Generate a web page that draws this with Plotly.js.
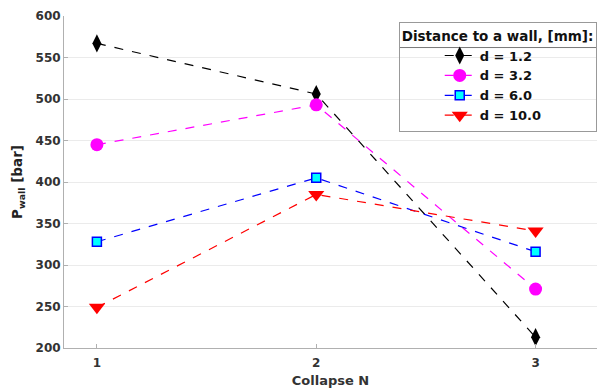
<!DOCTYPE html>
<html><head><meta charset="utf-8">
<script src="https://cdn.plot.ly/plotly-3.0.1.min.js"></script>
<style>body{margin:0;background:#fff}#c{width:597px;height:392px}</style>
</head><body><div id="c"></div>
<script>
const collapses = [1, 2, 3];
const seriesNames = ["d = 1.2", "d = 3.2", "d = 6.0", "d = 10.0"];
const d12 = [567, 506, 213];
const d32 = [445, 493, 271];
const d60 = [328, 405, 316];
const d100 = [249, 385, 341];
const xTicks = [1, 2, 3];
const yTicks = [200, 250, 300, 350, 400, 450, 500, 550, 600];

const F = "DejaVu Sans, Arial, sans-serif";
function tr(name, y, lineColor, symbol, size, fill, edge, ew) {
  return {x: collapses, y: y, name: name, type: "scatter", mode: "lines+markers",
    line: {color: lineColor, dash: "dash", width: 1.2},
    marker: {symbol: symbol, size: size, color: fill, line: {color: edge, width: ew}}};
}
const data = [
  tr(seriesNames[0], d12, "#000000", "diamond-tall", 13, "#000000", "#000000", 0),
  tr(seriesNames[1], d32, "#ff00ff", "circle", 13, "#ff00ff", "#ff00ff", 0),
  tr(seriesNames[2], d60, "#0000ff", "square", 9, "#00ffff", "#0000ff", 1.5),
  tr(seriesNames[3], d100, "#ff0000", "triangle-down", 14, "#ff0000", "#ff0000", 0)
];
const layout = {
  width: 597, height: 392,
  margin: {l: 64, r: 0, t: 16, b: 44},
  paper_bgcolor: "#fff", plot_bgcolor: "#fff",
  font: {family: F, size: 12, color: "#262626"},
  xaxis: {range: [0.85, 3.28], tickvals: xTicks, ticktext: xTicks.map(String),
    showgrid: false, zeroline: false, showline: true, linecolor: "#b0b0b0", linewidth: 1,
    ticks: "inside", ticklen: 4, tickcolor: "#b0b0b0", ticklabelstandoff: 4,
    tickfont: {family: F, size: 12, color: "#333", weight: "bold"},
    title: {text: "Collapse N", font: {family: F, size: 13, color: "#333", weight: "bold"}, standoff: 6}},
  yaxis: {range: [200, 600], tickvals: yTicks, showgrid: true, gridcolor: "#ebebeb",
    zeroline: false, showline: true, linecolor: "#b0b0b0", linewidth: 1,
    ticks: "inside", ticklen: 4, tickcolor: "#b0b0b0",
    tickfont: {family: F, size: 12, color: "#333", weight: "bold"},
    title: {text: "P<sub>wall</sub> [bar]", font: {family: F, size: 13.5, color: "#222", weight: "bold"}, standoff: 9}},
  legend: {x: 0.9995, xanchor: "right", y: 0.982, yanchor: "top",
    bgcolor: "rgba(0,0,0,0)", bordercolor: "#999", borderwidth: 1,
    font: {family: F, size: 13, color: "#111", weight: "bold"},
    title: {text: "Distance to a wall, [mm]:", side: "top", font: {family: F, size: 13.5, color: "#111", weight: "bold"}},
    indentation: 40, tracegroupgap: 0, itemwidth: 30},
  shapes: [{type: "rect", xref: "paper", yref: "paper", x0: 0.629, x1: 0.999,
    y0: 0.70, y1: 0.98, fillcolor: "#fff", line: {width: 0}, layer: "below"},
    {type: "line", xref: "paper", yref: "paper", x0: 0.629, x1: 0.999, y0: 0.905, y1: 0.905,
    line: {color: "#777", width: 1}, layer: "above"}],
  showlegend: true
};
Plotly.newPlot("c", data, layout, {displayModeBar: false, staticPlot: true});
</script></body></html>
